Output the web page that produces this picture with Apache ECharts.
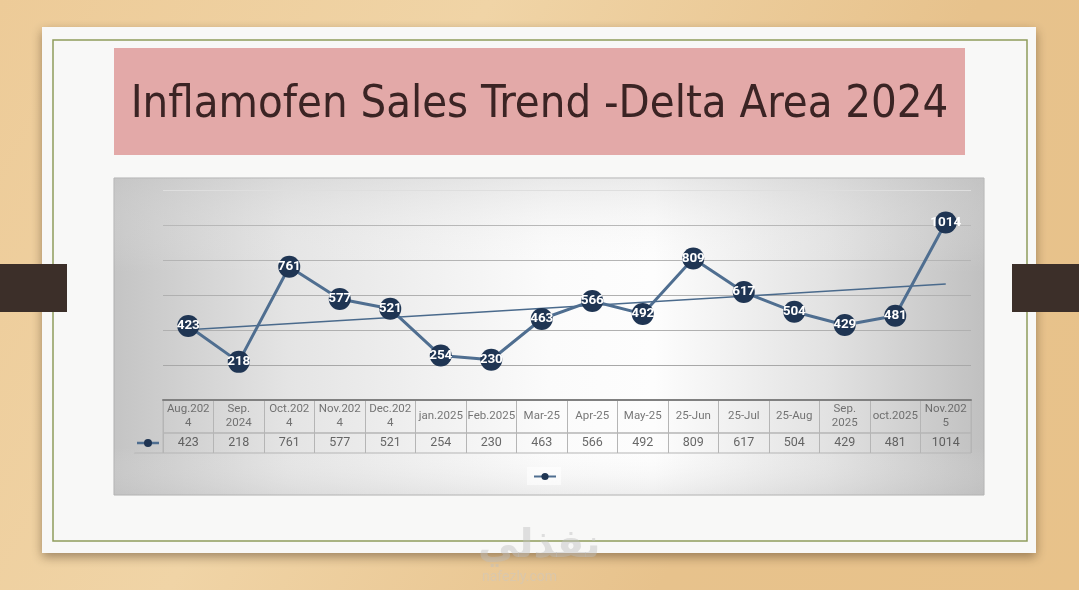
<!DOCTYPE html>
<html><head><meta charset="utf-8">
<script src="https://cdn.jsdelivr.net/npm/echarts@6.0.0/dist/echarts.min.js"></script>
<style>html,body{margin:0;padding:0;background:#e8c490}#c{width:1079px;height:590px}</style>
</head><body><div id="c"></div>
<script>
const titleText = 'Inflamofen Sales Trend -Delta Area 2024';
const categories = ['Aug.2024','Sep. 2024','Oct.2024','Nov.2024','Dec.2024','jan.2025','Feb.2025','Mar-25','Apr-25','May-25','25-Jun','25-Jul','25-Aug','Sep. 2025','oct.2025','Nov.2025'];
const tickLabels = ['Aug.202\n4','Sep.\n2024','Oct.202\n4','Nov.202\n4','Dec.202\n4','jan.2025','Feb.2025','Mar-25','Apr-25','May-25','25-Jun','25-Jul','25-Aug','Sep.\n2025','oct.2025','Nov.202\n5'];
const sales = [423,218,761,577,521,254,230,463,566,492,809,617,504,429,481,1014];
const trendEnds = [401, 663];
const yMin = 0, yMax = 1200, yStep = 200;

const chart = echarts.init(document.getElementById('c'));
const last = categories.length - 1;
const trendData = categories.map((c, i) => i === 0 ? trendEnds[0] : (i === last ? trendEnds[1] : null));

const W = 808;
const option = {
  animation: false,
  title: {
    text: titleText, left: 'center', top: 78,
    textStyle: { fontSize: 45, fontWeight: 'normal', color: '#3b2424',
      fontFamily: "'Liberation Sans Narrow','DejaVu Sans Condensed',Roboto,sans-serif" }
  },
  legend: {
    data: ['Sales'], left: 527, top: 467, formatter: () => '',
    itemWidth: 22, itemHeight: 9, padding: [5, 4, 5, 6],
    backgroundColor: 'rgba(255,255,255,0.6)', selectedMode: false
  },
  graphic: [
    { type: 'rect', z: -100, shape: { x: 0, y: 0, width: 1079, height: 590 },
      style: { fill: new echarts.graphic.LinearGradient(0, 0, 1, 1, [
        { offset: 0, color: '#edcb98' }, { offset: 0.35, color: '#f0d4a6' },
        { offset: 0.7, color: '#e7c28c' }, { offset: 1, color: '#e8c28a' }]) } },
    { type: 'rect', z: -99, shape: { x: 42, y: 27, width: 994, height: 526 },
      style: { fill: '#f8f8f7', shadowBlur: 10, shadowColor: 'rgba(60,40,20,0.45)', shadowOffsetY: 4 } },
    { type: 'rect', z: -98, shape: { x: 53, y: 40, width: 974, height: 501 },
      style: { fill: 'none', stroke: '#8e9c5c', lineWidth: 1.5 } },
    { type: 'rect', z: -97, shape: { x: 114, y: 48, width: 851, height: 107 },
      style: { fill: '#e3a9a8' } },
    { type: 'rect', z: -97, shape: { x: 114, y: 178, width: 870, height: 317 },
      style: { fill: new echarts.graphic.LinearGradient(0, 0, 1, 0, [
        { offset: 0, color: '#c4c4c4' }, { offset: 0.2, color: '#e4e4e4' },
        { offset: 0.5, color: '#fbfbfb' }, { offset: 0.62, color: '#fdfdfd' },
        { offset: 0.82, color: '#e2e2e2' }, { offset: 1, color: '#c0c0c0' }]),
        stroke: '#b0b0b0', lineWidth: 1 } },
    { type: 'rect', z: -96, shape: { x: 114, y: 178, width: 870, height: 317 },
      style: { fill: new echarts.graphic.LinearGradient(0, 0, 0, 1, [
        { offset: 0, color: 'rgba(200,200,200,0.35)' }, { offset: 0.3, color: 'rgba(255,255,255,0)' },
        { offset: 0.85, color: 'rgba(255,255,255,0)' }, { offset: 1, color: 'rgba(190,190,190,0.25)' }]) } },
    { type: 'rect', z: 50, shape: { x: 0, y: 264, width: 67, height: 48 }, style: { fill: '#3c2f29' } },
    { type: 'rect', z: 50, shape: { x: 1012, y: 264, width: 67, height: 48 }, style: { fill: '#3c2f29' } },
    { type: 'line', z: 10, shape: { x1: 134, y1: 453, x2: 163, y2: 453 }, style: { stroke: '#b5b5b5', lineWidth: 1 } },
    { type: 'line', z: 10, shape: { x1: 134, y1: 433, x2: 134, y2: 453 }, style: { stroke: '#c8c8c8', lineWidth: 1 } },
    { type: 'line', z: 10, shape: { x1: 137, y1: 443, x2: 159, y2: 443 }, style: { stroke: '#4f6e90', lineWidth: 2.5 } },
    { type: 'circle', z: 11, shape: { cx: 148, cy: 443, r: 4 }, style: { fill: '#1f3553' } },
    { type: 'text', z: 5, left: 478, top: 527, style: { text: 'نفذلي', fontSize: 40, fontWeight: 'bold',
        fill: 'rgba(190,190,190,0.45)', fontFamily: "'DejaVu Sans',sans-serif" } },
    { type: 'text', z: 5, left: 482, top: 570, style: { text: 'nafezly.com', fontSize: 14,
        fill: 'rgba(200,200,200,0.45)', fontFamily: 'Roboto,sans-serif' } }
  ],
  grid: [
    { left: 163, top: 190, width: W, height: 210 },
    { left: 163, top: 400, width: W, height: 33, show: true, borderColor: '#b5b5b5', borderWidth: 1, backgroundColor: 'transparent' },
    { left: 163, top: 433, width: W, height: 20, show: true, borderColor: '#b5b5b5', borderWidth: 1, backgroundColor: 'transparent' }
  ],
  xAxis: [
    { type: 'category', gridIndex: 0, data: categories, boundaryGap: true, z: 5,
      axisLine: { show: true, lineStyle: { color: '#808080', width: 2 } },
      axisTick: { show: false }, axisLabel: { show: false } },
    { type: 'category', gridIndex: 1, data: categories, boundaryGap: true,
      axisLine: { show: false }, axisTick: { show: false }, axisLabel: { show: false },
      splitLine: { show: true, interval: 0, lineStyle: { color: '#b5b5b5' } } },
    { type: 'category', gridIndex: 2, data: categories, boundaryGap: true,
      axisLine: { show: false }, axisTick: { show: false }, axisLabel: { show: false },
      splitLine: { show: true, interval: 0, lineStyle: { color: '#b5b5b5' } } }
  ],
  yAxis: [
    { type: 'value', gridIndex: 0, min: yMin, max: yMax, interval: yStep,
      axisLine: { show: false }, axisTick: { show: false }, axisLabel: { show: false },
      splitLine: { show: true, lineStyle: { width: 1, color: ['#a8a8a8','#a8a8a8','#b0b0b0','#b0b0b0','#b4b4b4','#b8b8b8','#dedede'] } } },
    { type: 'value', gridIndex: 1, min: 0, max: 1, show: false, splitLine: { show: false } },
    { type: 'value', gridIndex: 2, min: 0, max: 1, show: false, splitLine: { show: false } }
  ],
  series: [
    { name: 'Trend', type: 'line', xAxisIndex: 0, yAxisIndex: 0, data: trendData, connectNulls: true,
      symbol: 'none', z: 2, silent: true, lineStyle: { color: '#4a6a8c', width: 1.6 } },
    { name: 'Sales', type: 'line', xAxisIndex: 0, yAxisIndex: 0, data: sales, z: 3,
      symbol: 'circle', symbolSize: 22,
      itemStyle: { color: '#1f3553' },
      lineStyle: { color: '#4f6e90', width: 3 },
      label: { show: true, position: 'inside', color: '#fff', fontSize: 13.5, fontWeight: 'bold',
        fontFamily: 'Roboto,sans-serif' } },
    { name: 'hdr', type: 'scatter', xAxisIndex: 1, yAxisIndex: 1, symbolSize: 1,
      itemStyle: { color: 'transparent' }, silent: true,
      data: categories.map(c => [c, 0.5]),
      label: { show: true, position: 'inside', formatter: p => tickLabels[p.dataIndex],
        color: '#555', fontSize: 11.5, lineHeight: 14, fontFamily: 'Roboto,sans-serif' } },
    { name: 'val', type: 'scatter', xAxisIndex: 2, yAxisIndex: 2, symbolSize: 1,
      itemStyle: { color: 'transparent' }, silent: true,
      data: categories.map(c => [c, 0.5]),
      label: { show: true, position: 'inside', formatter: p => String(sales[p.dataIndex]),
        color: '#444', fontSize: 12.5, fontFamily: 'Roboto,sans-serif' } }
  ]
};
chart.setOption(option);
</script></body></html>
